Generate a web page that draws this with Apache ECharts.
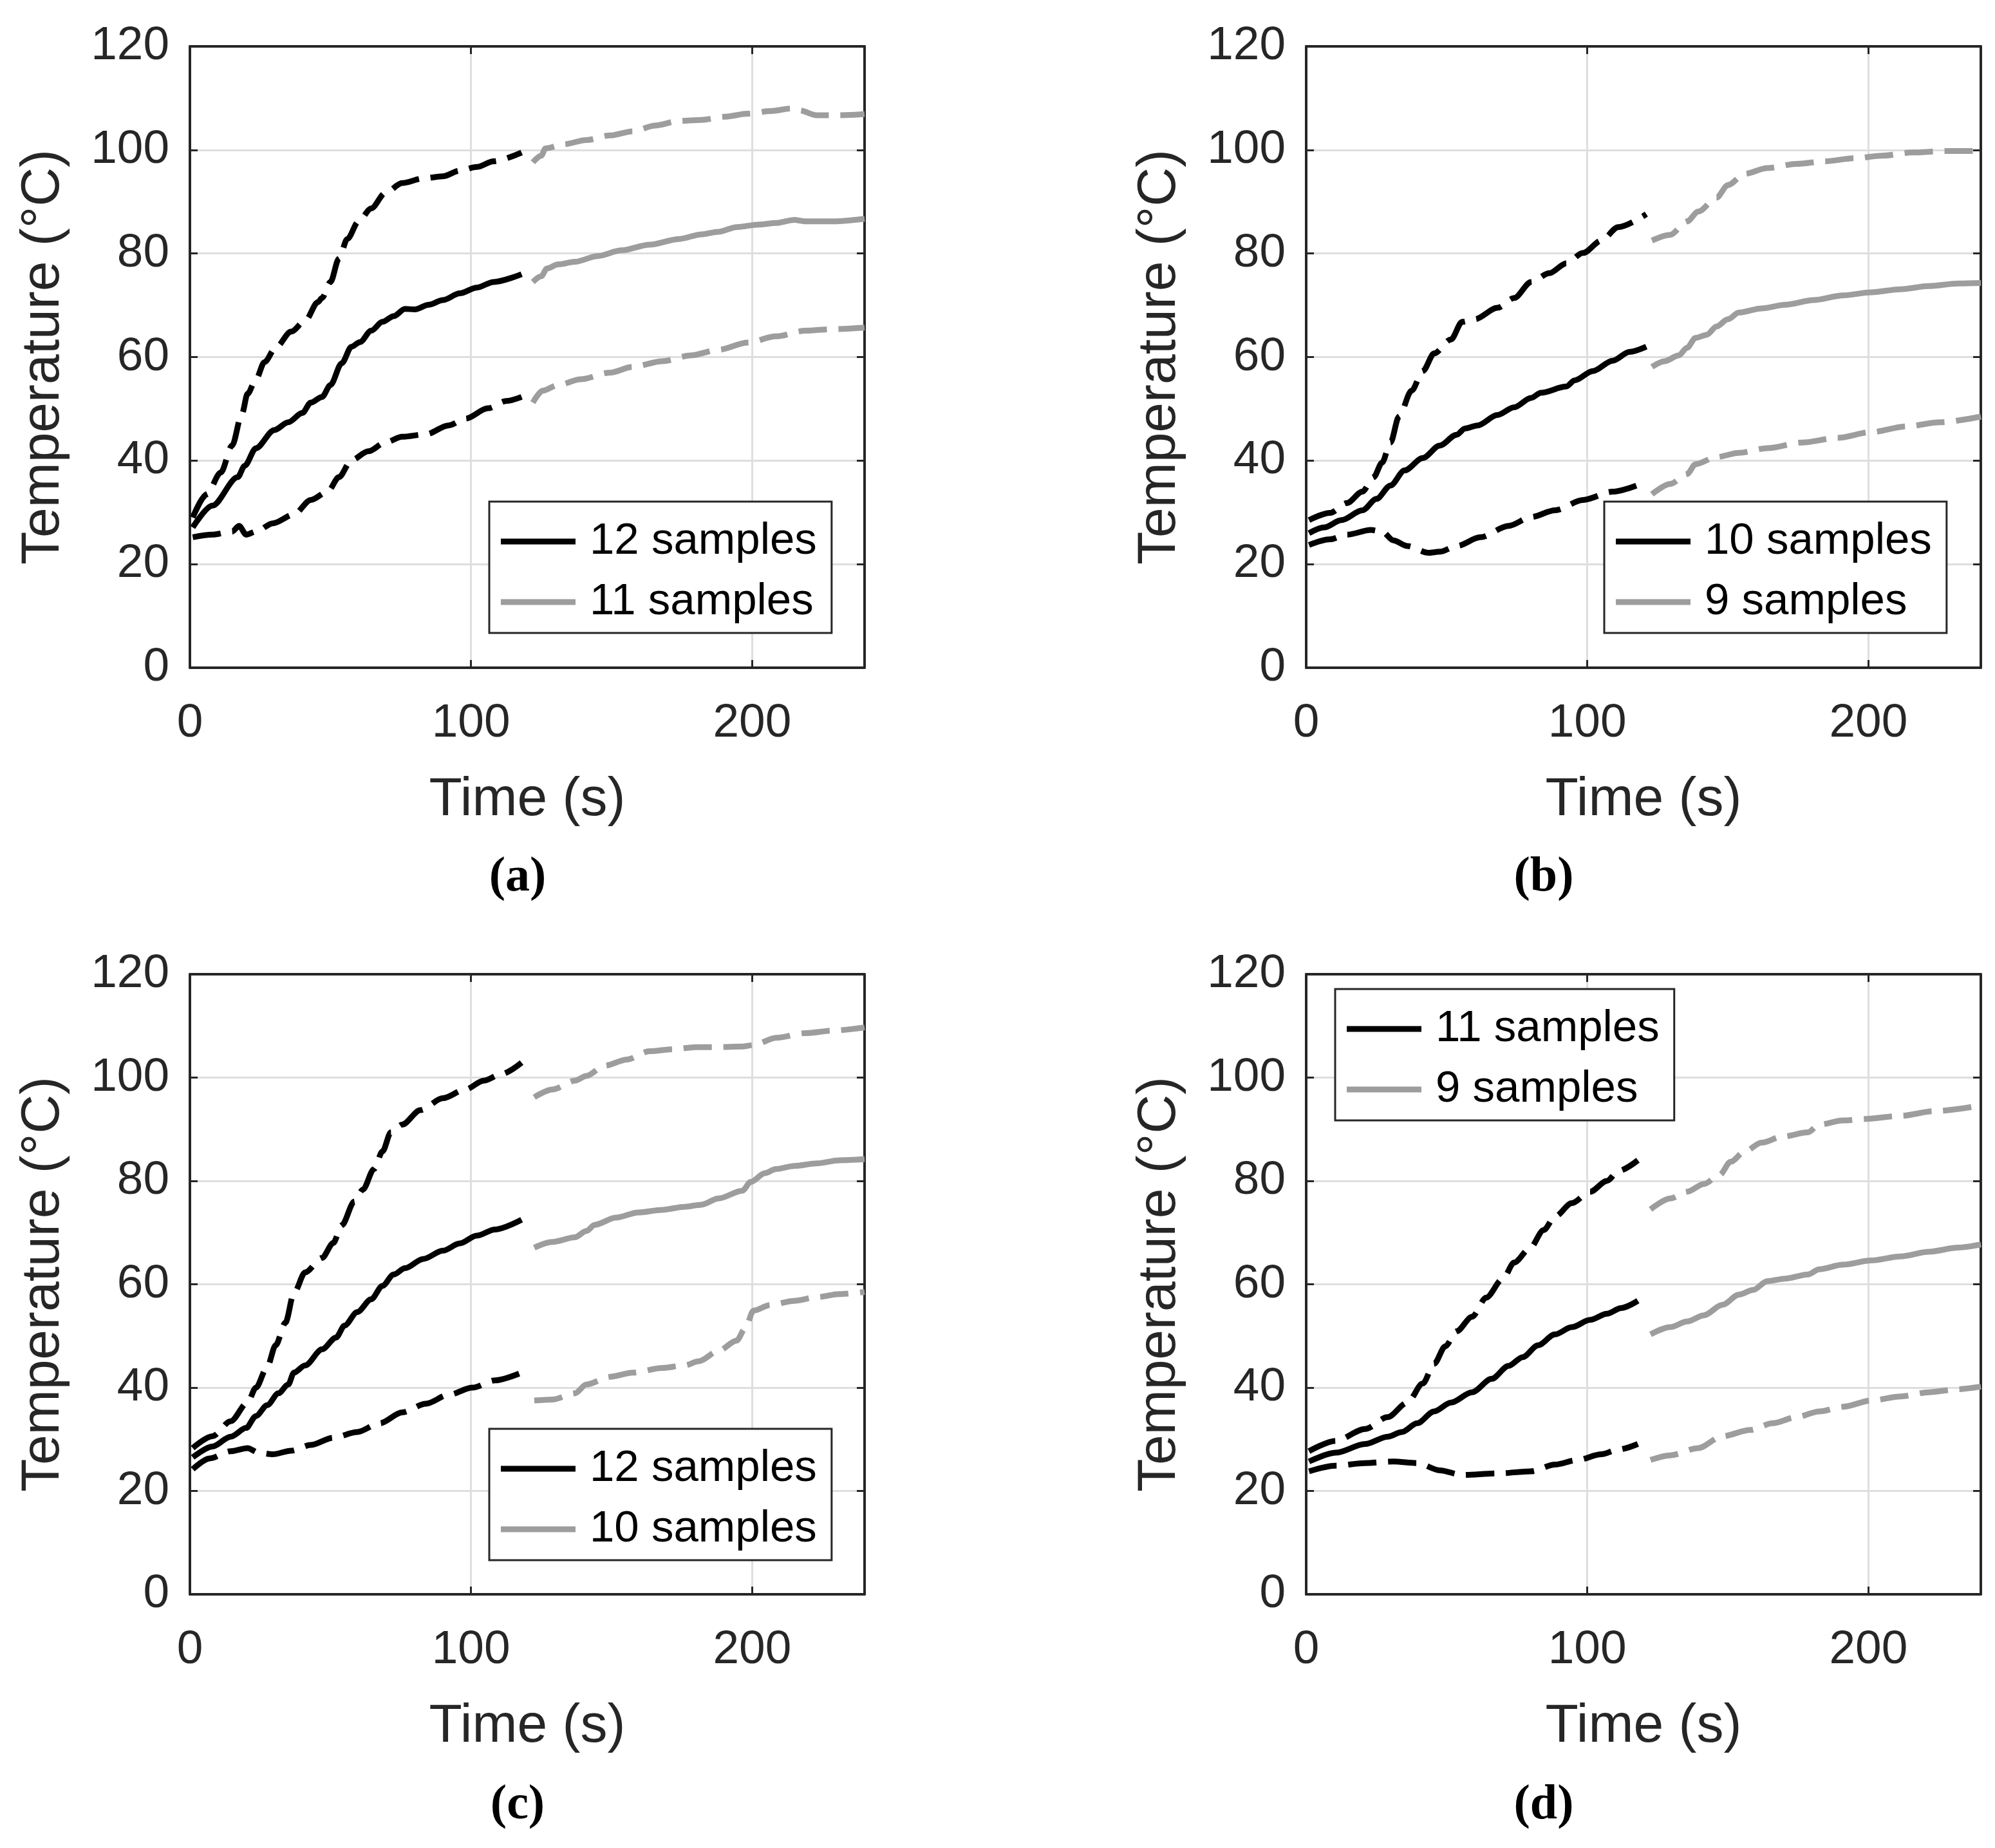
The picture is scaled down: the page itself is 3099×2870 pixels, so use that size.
<!DOCTYPE html>
<html><head><meta charset="utf-8">
<script src="https://cdn.jsdelivr.net/npm/echarts@6/dist/echarts.min.js"></script>
<style>html,body{margin:0;padding:0;background:#fff}#c{width:3099px;height:2870px}</style>
</head><body><div id="c"></div>
<script>
// ---- tick labels ----
const xTicks = [0, 100, 200];      // x axis runs 0..240
const xMax = 240;
const yTicks = [0, 20, 40, 60, 80, 100, 120];

// ---- panel (a) ----
const a_meanB = [[1,27.1],[8,31.3],[17,36.8],[19.5,39],[23.5,42.4],[30,45.9],[35,47.4],[40,49.2],[43,51.2],[47,52.3],[50,54.6],[54,58.8],[57.5,62],[60.5,62.9],[64.5,65.1],[68.5,66.8],[72.5,67.9],[76.5,69.3],[80,69.2],[85,70.1],[90,71],[96,72.3],[102,73.4],[108,74.5],[118,76]];
const a_upB = [[1,29],[6,33.5],[11,37.7],[15,42.9],[18.5,49],[20.5,52.9],[23.5,55.7],[26.5,59],[30.5,61.8],[36,64.9],[41,67],[45.5,70.6],[47,71.4],[50,74.5],[53,79],[56,82.8],[60,86.2],[64.5,88.7],[69.5,91.7],[75.5,93.6],[83,94.5],[90,94.9],[96,96],[102,96.7],[108,97.8],[118,99.5]];
const a_loB = [[1,25.2],[8,25.7],[15,26.3],[17.5,27.4],[20,25.7],[23.5,26.3],[29.5,27.9],[37,29.6],[43,32.4],[49,34],[53,36.8],[57.5,40.1],[63.5,41.8],[69.5,43.5],[75.5,44.6],[84,45.1],[92,46.8],[98,48.1],[106,50.1],[112.5,51.5],[118,52.3]];
const a_meanG = [[122,74.5],[125,75.6],[127,77.1],[131,77.9],[137,78.4],[145,79.5],[153.5,80.6],[163.5,81.7],[174,82.8],[182,83.7],[188,84.2],[194.5,85.1],[202.5,85.6],[208.5,85.9],[215,86.5],[219,86.2],[229,86.2],[240,86.7]];
const a_upG = [[122,97.6],[125,98.9],[126.5,100.3],[133,101.1],[141,101.9],[149.5,102.8],[157.5,103.6],[165.5,104.7],[174,105.6],[182,105.8],[190,106.4],[198.5,107],[206.5,107.5],[214,108],[217,107.6],[223,106.7],[231,106.7],[240,106.9]];
const a_loG = [[122,51.2],[125.5,53.5],[131,54.6],[139,55.7],[149.5,57],[157.5,58.1],[168,59.2],[178,60.3],[188,61.4],[198.5,62.8],[208.5,64],[219,65.1],[229,65.4],[240,65.7]];

// ---- panel (b) ----
const b_meanB = [[1,26],[6.5,27.1],[12.5,28.5],[20,30.4],[25,32.6],[30,35.2],[35,38.1],[41.5,40.5],[47.5,42.9],[53.5,45],[56.5,46.2],[61,46.8],[68,48.8],[74,50.3],[80,52.1],[83.5,53.1],[92.5,54.3],[95.5,55.5],[102,57.3],[109,59.3],[115,61],[121,62]];
const b_upB = [[1,28.5],[8.5,29.9],[14.5,31.8],[20,34],[24,36.8],[27,39.6],[30,43.5],[33,48.5],[37.5,53.5],[41.5,57.3],[45.5,60.7],[51.5,63.4],[55.5,66.8],[60,67.3],[68,69.5],[74,71.4],[80,74.5],[86.5,76.2],[92.5,78.1],[98.5,80.1],[105,82.5],[111,85.1],[121,87.6]];
const b_loB = [[1,23.7],[8.5,24.8],[14.5,25.7],[23,26.6],[27,26.3],[31,24.6],[36,23.5],[43.5,22.2],[47.5,22.4],[53.5,23.5],[62,25.2],[72,27.4],[80,29.1],[88.5,30.4],[98.5,32.4],[109,34],[121,35.9]];
const b_meanG = [[123,58.1],[127.5,59.2],[132.5,60.3],[135.5,61.8],[138.5,63.7],[142.5,64.3],[146,65.9],[150,67.3],[154,68.6],[162,69.4],[170.5,70.1],[180.5,71],[191,71.9],[201,72.5],[211.5,73.1],[221.5,73.7],[232,74.2],[240,74.3]];
const b_upG = [[123,82.5],[129.5,83.6],[135.5,86.2],[139.5,88.1],[146,90.8],[150,93.2],[156,95.4],[164,96.5],[174.5,97.3],[184.5,97.8],[195,98.4],[205,98.9],[215.5,99.5],[227.5,99.8],[240,99.8]];
const b_loG = [[123,33.5],[129.5,35.5],[135.5,37.4],[138.5,39.3],[146,40.7],[154,41.5],[164,42.4],[176.5,43.5],[189,44.4],[201,45.5],[213.5,46.6],[225.5,47.4],[240,48.5]];

// ---- panel (c) ----
const c_meanB = [[1,26.5],[8,28.6],[14.5,30.5],[20,32.2],[23.5,34.5],[27.5,36.6],[31.5,38.9],[35,40.6],[37,42.9],[41,44.3],[47,47.4],[52,49.7],[55,52],[59.5,54.6],[64.5,57.1],[68.5,59.7],[72.5,61.9],[76.5,63.1],[83,64.9],[90,66.5],[96,67.9],[102,69.4],[108.5,70.6],[118,72.5]];
const c_upB = [[1,28.3],[8,30.6],[14.5,33.5],[20.5,37.1],[23.5,40],[27.5,44],[30.5,48.2],[34,52.6],[37,58.3],[41,62.3],[47,65.1],[51,68],[54,71.4],[58.5,76],[61.5,78.3],[65.5,82.3],[68.5,85.7],[71.5,89.4],[75.5,90.9],[82,93.7],[90,96],[98,97.7],[104.5,99.4],[110.5,100.6],[118,102.9]];
const c_loB = [[1,24.2],[7,26.3],[14.5,27.7],[20.5,28.3],[24.5,27.4],[29.5,27.1],[36,27.8],[43,28.9],[51,30.3],[59.5,31.4],[67.5,33.1],[75.5,35.2],[84,36.9],[92,38.6],[100.5,40],[108.5,41.4],[118,42.9]];
const c_meanG = [[122.5,67.1],[129,68.2],[137,69.1],[141,70.3],[144,71.5],[151.5,72.9],[159.5,73.9],[168,74.4],[176,75],[182,75.4],[188,76.6],[196.5,78.1],[199.5,79.8],[204.5,81.5],[208.5,82.3],[215,82.9],[223,83.4],[231,84],[240,84.2]];
const c_upG = [[122.5,96.2],[129,97.7],[137,99.4],[141,100.3],[147.5,102.3],[155.5,103.5],[163.5,105.1],[172,105.5],[180,105.9],[188,105.9],[196.5,106],[200.5,106.3],[208.5,107.7],[219,108.6],[229,109.1],[240,109.7]];
const c_loG = [[122.5,37.5],[129,37.7],[137,38.9],[141,40.6],[149.5,42.1],[157.5,42.9],[168,43.8],[176,44.3],[181,45.1],[188,47.1],[194.5,49.1],[197.5,51.4],[200.5,54.9],[206.5,56],[215,56.8],[223,57.5],[231,58.1],[240,58.5]];

// ---- panel (d) ----
const d_meanB = [[1,25.7],[10.5,27.4],[21,29.1],[29,30.5],[34,31.4],[39.5,33.1],[45.5,35.4],[51.5,37.1],[59,39.1],[66,41.7],[72,44.2],[77,45.9],[82.5,48.2],[88.5,50.3],[94.5,51.7],[101,53.1],[107,54.3],[112,55.4],[118,56.8]];
const d_upB = [[1,27.7],[10.5,29.7],[21,32],[29,34.3],[36,37.1],[41.5,40.8],[45.5,44.6],[49.5,48],[53.5,50.9],[59,53.7],[64,57.4],[70,61.1],[74,64.2],[79.5,66.9],[84.5,70.5],[88.5,73.1],[94.5,75.7],[101,77.9],[107,80],[111,81.9],[118,84]];
const d_loB = [[1,23.8],[10.5,24.9],[21,25.4],[31,25.7],[39.5,25.4],[47.5,24],[55.5,23.1],[68,23.4],[80,23.8],[88.5,25.1],[96.5,26],[105,27.1],[111,28],[118,29.1]];
const d_meanG = [[122.5,50.3],[129.5,51.7],[135.5,52.8],[141.5,54],[148,56],[154,58],[159,58.9],[164,60.6],[170.5,61.1],[178.5,61.9],[182.5,62.9],[191,63.8],[201,64.6],[211.5,65.4],[221.5,66.3],[232,67.1],[240,67.7]];
const d_upG = [[122.5,74.5],[129.5,76.6],[135.5,77.9],[141.5,79.4],[147,81.1],[151,83.7],[156,85.7],[162,87.4],[169.5,88.6],[178.5,89.4],[182.5,90.9],[191,91.7],[199,92],[211.5,92.6],[223.5,93.5],[240,94.6]];
const d_loG = [[122.5,26],[129.5,26.9],[139.5,28.3],[148,30.6],[158,31.8],[166,33.1],[174.5,34.3],[182.5,35.4],[191,36.3],[201,37.5],[211.5,38.3],[221.5,39.1],[232,39.7],[240,40.2]];

// ---- legend labels and captions ----
const legendA = ['12 samples', '11 samples'];
const legendB = ['10 samples', '9 samples'];
const legendC = ['12 samples', '10 samples'];
const legendD = ['11 samples', '9 samples'];
const captions = ['(a)', '(b)', '(c)', '(d)'];

// ---- layout / style ----
const FONT = '"Liberation Sans", Arial, Helvetica, sans-serif';
const AX = '#262626';
const BLACK = '#000000';
const GREY = '#9d9d9d';
const LW = 9;
const DASH = [44, 18];

const panels = [
  {id:'a', grid:{left:295, top:72, width:1048, height:965}, leg:{left:760, top:779}, cap:[804,1363], names:legendA,
   data:[a_meanB, a_upB, a_loB, a_meanG, a_upG, a_loG]},
  {id:'b', grid:{left:2029, top:72, width:1048, height:965}, leg:{left:2492, top:779}, cap:[2398,1363], names:legendB,
   data:[b_meanB, b_upB, b_loB, b_meanG, b_upG, b_loG]},
  {id:'c', grid:{left:295, top:1513, width:1048, height:963}, leg:{left:760, top:2219}, cap:[804,2804], names:legendC,
   data:[c_meanB, c_upB, c_loB, c_meanG, c_upG, c_loG]},
  {id:'d', grid:{left:2029, top:1513, width:1048, height:963}, leg:{left:2074, top:1536}, cap:[2398,2804], names:legendD,
   data:[d_meanB, d_upB, d_loB, d_meanG, d_upG, d_loG]}
];

const grids = [], xAxes = [], yAxes = [], series = [], legends = [], graphics = [];
const yInt = yTicks[1] - yTicks[0];
const xInt = xTicks[1] - xTicks[0];

panels.forEach((p, i) => {
  grids.push(Object.assign({containLabel:false}, p.grid));
  const tick = {show:true, inside:true, length:12, lineStyle:{color:AX, width:3}};
  const line = {show:true, onZero:false, lineStyle:{color:AX, width:4}};
  const split = {show:true, lineStyle:{color:'#dedede', width:3}};
  xAxes.push({type:'value', gridIndex:i, position:'bottom', min:xTicks[0], max:xMax, interval:xInt,
    axisLine:line, axisTick:tick, splitLine:split,
    axisLabel:{show:true, margin:50, fontSize:73, fontFamily:FONT, color:AX, showMaxLabel:false},
    name:'Time (s)', nameLocation:'middle', nameGap:164,
    nameTextStyle:{fontSize:84, fontFamily:FONT, color:AX}});
  xAxes.push({type:'value', gridIndex:i, position:'top', min:xTicks[0], max:xMax, interval:xInt,
    axisLine:line, axisTick:tick, splitLine:{show:false}, axisLabel:{show:false}});
  yAxes.push({type:'value', gridIndex:i, position:'left', min:yTicks[0], max:yTicks[yTicks.length-1], interval:yInt,
    axisLine:line, axisTick:tick, splitLine:split,
    axisLabel:{show:true, margin:32, fontSize:73, fontFamily:FONT, color:AX},
    name:'Temperature (°C)', nameLocation:'middle', nameGap:185,
    nameTextStyle:{fontSize:84, fontFamily:FONT, color:AX}});
  yAxes.push({type:'value', gridIndex:i, position:'right', min:yTicks[0], max:yTicks[yTicks.length-1], interval:yInt,
    axisLine:line, axisTick:tick, splitLine:{show:false}, axisLabel:{show:false}});

  const defs = [
    {name:p.id+'|'+p.names[0], color:BLACK, type:'solid', z:4},
    {name:p.id+'|upB', color:BLACK, type:DASH, z:3},
    {name:p.id+'|loB', color:BLACK, type:DASH, z:3},
    {name:p.id+'|'+p.names[1], color:GREY, type:'solid', z:4},
    {name:p.id+'|upG', color:GREY, type:DASH, z:3},
    {name:p.id+'|loG', color:GREY, type:DASH, z:3}
  ];
  defs.forEach((d, k) => {
    series.push({type:'line', name:d.name, xAxisIndex:2*i, yAxisIndex:2*i, data:p.data[k],
      symbol:'none', showSymbol:false, smooth:0.3, smoothMonotone:'x', animation:false, z:d.z,
      color:d.color, lineStyle:{color:d.color, width:LW, type:d.type, cap:'butt', join:'round'},
      emphasis:{disabled:true}});
  });

  legends.push({show:true, orient:'vertical', left:p.leg.left, top:p.leg.top,
    data:[p.id+'|'+p.names[0], p.id+'|'+p.names[1]],
    formatter: n => n.split('|')[1],
    icon:'rect', padding:[27, 23, 13, 18], itemWidth:116, itemHeight:LW, itemGap:24,
    backgroundColor:'#ffffff', borderColor:AX, borderWidth:3, borderRadius:0,
    selectedMode:false,
    textStyle:{fontSize:69, fontFamily:FONT, color:'#000', lineHeight:70, padding:[0,0,0,17]}});

  graphics.push({type:'text', x:p.cap[0], y:p.cap[1], z:10,
    style:{text:captions[i], fontSize:76, fontWeight:'bold', fontFamily:'"Liberation Serif", "Times New Roman", serif',
      fill:'#000', align:'center', verticalAlign:'middle'}});
});

const chart = echarts.init(document.getElementById('c'), null, {renderer:'canvas'});
chart.setOption({
  animation:false,
  backgroundColor:'#ffffff',
  grid:grids, xAxis:xAxes, yAxis:yAxes, series:series, legend:legends, graphic:graphics,
  tooltip:{show:false}
});
</script></body></html>
